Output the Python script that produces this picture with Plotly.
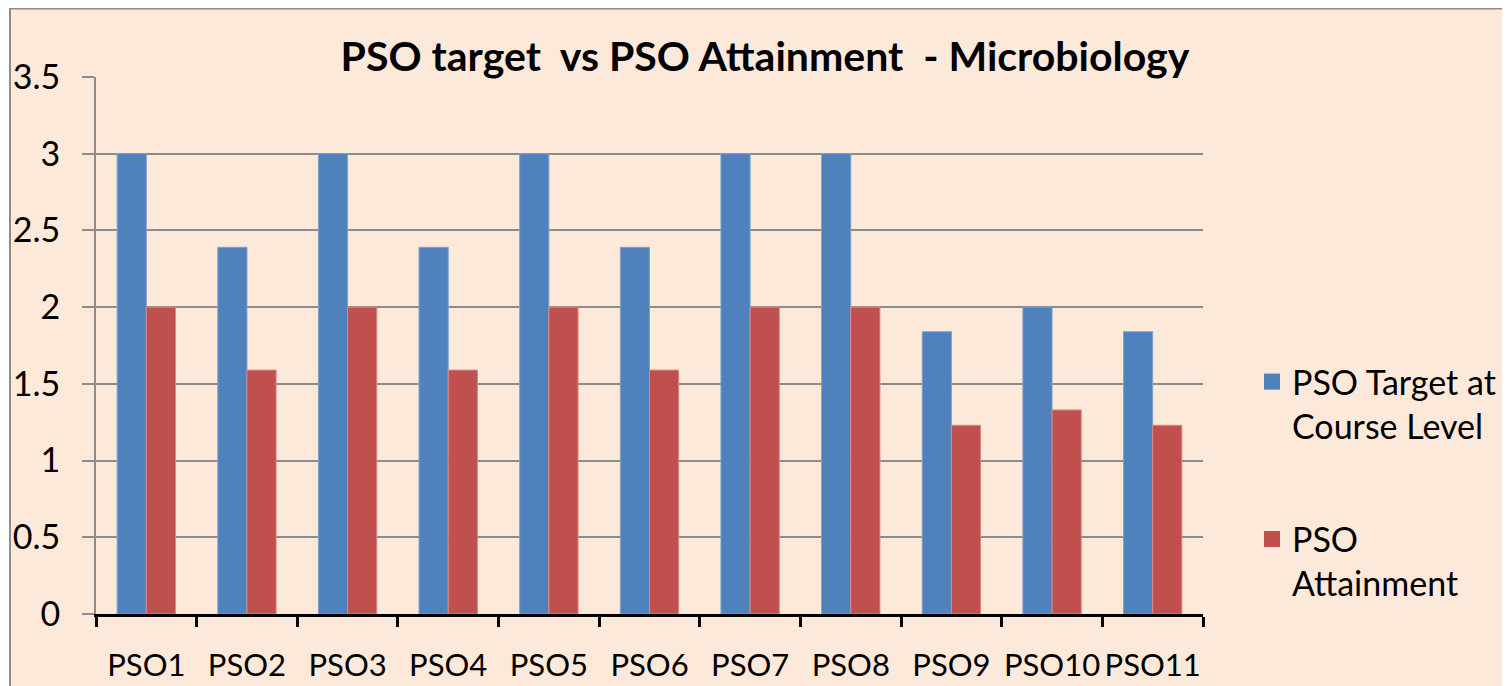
import plotly.graph_objects as go

categories = ["PSO1", "PSO2", "PSO3", "PSO4", "PSO5", "PSO6", "PSO7", "PSO8", "PSO9", "PSO10", "PSO11"]
target = [3, 2.39, 3, 2.39, 3, 2.39, 3, 3, 1.84, 2, 1.84]
attainment = [2, 1.59, 2, 1.59, 2, 1.59, 2, 2, 1.23, 1.33, 1.23]
series_names = ["PSO Target at<br>Course Level", "PSO<br>Attainment"]
y_ticks = [0, 0.5, 1, 1.5, 2, 2.5, 3, 3.5]
y_tick_labels = ["0", "0.5", "1", "1.5", "2", "2.5", "3", "3.5"]

FONT = "Lato, Open Sans, sans-serif"
BG = "#FDE9D9"
BLUE, RED = "#4F81BD", "#C0504D"

fig = go.Figure()
fig.add_trace(go.Bar(
    x=categories, y=target, name=series_names[0], showlegend=False,
    marker=dict(color=BLUE, line=dict(color="#7FA1CF", width=1)),
))
fig.add_trace(go.Bar(
    x=categories, y=attainment, name=series_names[1], showlegend=False,
    marker=dict(color=RED, line=dict(color="#D98A88", width=1)),
))
# legend entries with larger square swatches
for nm, col, grp in [(series_names[0], BLUE, "a"), (series_names[1], RED, "b")]:
    fig.add_trace(go.Scatter(
        x=[None], y=[None], mode="markers", name=nm, legendgroup=grp,
        marker=dict(symbol="square", size=20, color=col),
    ))

# page offset (body margin) of 8px
OFF = 8
W, H = 1510, 686
PL, PR, PT, PB = 96, 1203, 77, 614  # plot area in page pixels
L, T = PL - OFF, PT - OFF
R = OFF + W - PR
B = OFF + H - PB
pw, ph = PR - PL, PB - PT

def px_x(x):
    return (x - PL) / pw

def px_y(y):
    return (PB - y) / ph

fig.add_shape(type="rect", xref="paper", yref="paper",
              x0=px_x(10), x1=px_x(1530), y0=px_y(8.5), y1=px_y(710),
              fillcolor=BG, line=dict(color="#8C8C8C", width=2), layer="below")

fig.update_layout(
    width=W, height=H,
    margin=dict(l=L, r=R, t=T, b=B, autoexpand=False),
    paper_bgcolor="white",
    plot_bgcolor=BG,
    barmode="group",
    bargap=0.42,
    bargroupgap=0,
    showlegend=True,
    font=dict(family=FONT, size=32, color="black"),
    title=dict(text="<b>PSO target  vs PSO Attainment  - Microbiology</b>",
               x=px_x(765), xanchor="center", xref="paper",
               y=1 - (57 - OFF) / H, yanchor="middle", automargin=False,
               font=dict(family=FONT, size=41, color="black")),
    legend=dict(x=px_x(1252), xanchor="left", y=px_y(353), yanchor="top",
                bgcolor="rgba(0,0,0,0)", traceorder="grouped", tracegroupgap=66,
                valign="top", itemsizing="trace", font=dict(family=FONT, size=34)),
    xaxis=dict(showline=True, linecolor="black", linewidth=3,
               ticks="outside", tickson="boundaries", ticklen=10, tickwidth=3,
               tickcolor="black", showgrid=False, ticklabelstandoff=22,
               tickangle=0, automargin=False,
               tickfont=dict(size=31)),
    yaxis=dict(range=[0, 3.5], tickvals=y_ticks, ticktext=y_tick_labels,
               showline=True, linecolor="#8C8C8C", linewidth=2,
               ticks="outside", ticklen=12, tickwidth=2, tickcolor="#8C8C8C",
               showgrid=True, gridcolor="#8C8C8C", gridwidth=2,
               zeroline=False, ticklabelstandoff=15, automargin=False,
               tickfont=dict(size=34)),
)

fig.write_html("out.html")
